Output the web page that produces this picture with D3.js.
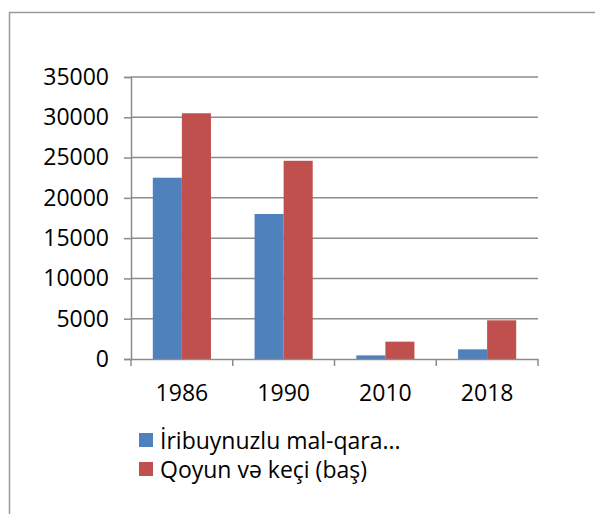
<!DOCTYPE html>
<html>
<head>
<meta charset="utf-8">
<script src="https://cdn.jsdelivr.net/npm/d3@7"></script>
<style>
	body { margin: 0; background: #fff; }
	svg { font-family: "Open Sans", sans-serif; }
</style>
</head>
<body>
<svg width="595" height="514"></svg>
<script>
var years = ["1986", "1990", "2010", "2018"];
var cattle = [22500, 18000, 450, 1200];
var sheepGoats = [30500, 24600, 2150, 4800];
var seriesNames = ["İribuynuzlu mal-qara...", "Qoyun və keçi (baş)"];
var seriesColors = ["#4F81BD", "#C0504D"];
var yTicks = [0, 5000, 10000, 15000, 20000, 25000, 30000, 35000];

var svg = d3.select("svg"),
	margin = {
		top: 77,
		right: 57,
		bottom: 155,
		left: 131
	},
	width = +svg.attr("width") - margin.left - margin.right,
	height = +svg.attr("height") - margin.top - margin.bottom;

// outer frame (only left and top visible)
svg.append("rect")
	.attr("x", 9.5).attr("y", 12.5)
	.attr("width", 620).attr("height", 540)
	.attr("fill", "none")
	.attr("stroke", "#9a9a9a")
	.attr("stroke-width", 1.5);

var x = d3.scaleBand().domain(years).range([0, width]),
	y = d3.scaleLinear().domain([0, 35000]).range([height, 0]);

// Excel gap width 150%: bar = band / 3.5
var barW = x.bandwidth() / 3.5;
var offset = (x.bandwidth() - 2 * barW) / 2;

var g = svg.append("g")
	.attr("transform", "translate(" + margin.left + "," + margin.top + ")");

// gridlines
g.selectAll(".grid")
	.data(yTicks.slice(1))
	.enter().append("line")
	.attr("x1", 0).attr("x2", width)
	.attr("y1", function(d) { return y(d); })
	.attr("y2", function(d) { return y(d); })
	.attr("stroke", "#8c8c8c")
	.attr("stroke-width", 1.5);

var yAxis = g.append("g")
	.call(d3.axisLeft(y).tickValues(yTicks).tickSize(7).tickPadding(15).tickFormat(d3.format("d")));
yAxis.select(".domain").attr("stroke", "#8c8c8c").attr("stroke-width", 1.5);
yAxis.selectAll(".tick line").attr("stroke", "#8c8c8c").attr("stroke-width", 1.5);
yAxis.selectAll("text").attr("font-size", "23px").attr("fill", "#000").attr("font-family", "Open Sans");

var series = [cattle, sheepGoats];
series.forEach(function(vals, s) {
	g.selectAll(".bar" + s)
		.data(vals)
		.enter().append("rect")
		.attr("x", function(d, i) { return x(years[i]) + offset + s * barW; })
		.attr("y", function(d) { return y(d); })
		.attr("width", barW)
		.attr("height", function(d) { return height - y(d); })
		.attr("fill", seriesColors[s]);
});

var xAxis = g.append("g")
	.attr("transform", "translate(0," + height + ")")
	.call(d3.axisBottom(x).tickSize(0).tickPadding(26));
xAxis.select(".domain").attr("stroke", "#8c8c8c").attr("stroke-width", 1.5);
xAxis.selectAll("text").attr("font-size", "23px").attr("fill", "#000").attr("font-family", "Open Sans");

// category boundary ticks
g.selectAll(".xtick")
	.data(d3.range(years.length + 1))
	.enter().append("line")
	.attr("x1", function(i) { return i * x.step(); })
	.attr("x2", function(i) { return i * x.step(); })
	.attr("y1", height).attr("y2", height + 7)
	.attr("stroke", "#8c8c8c")
	.attr("stroke-width", 1.5);

// legend
var legend = svg.append("g").attr("transform", "translate(139,433)");
seriesNames.forEach(function(name, i) {
	var row = legend.append("g").attr("transform", "translate(0," + (i * 29) + ")");
	row.append("rect").attr("width", 14).attr("height", 14).attr("fill", seriesColors[i]);
	row.append("text")
		.attr("x", 21).attr("y", 16)
		.attr("font-size", "23px")
		.attr("fill", "#000")
		.text(name);
});
</script>
</body>
</html>
